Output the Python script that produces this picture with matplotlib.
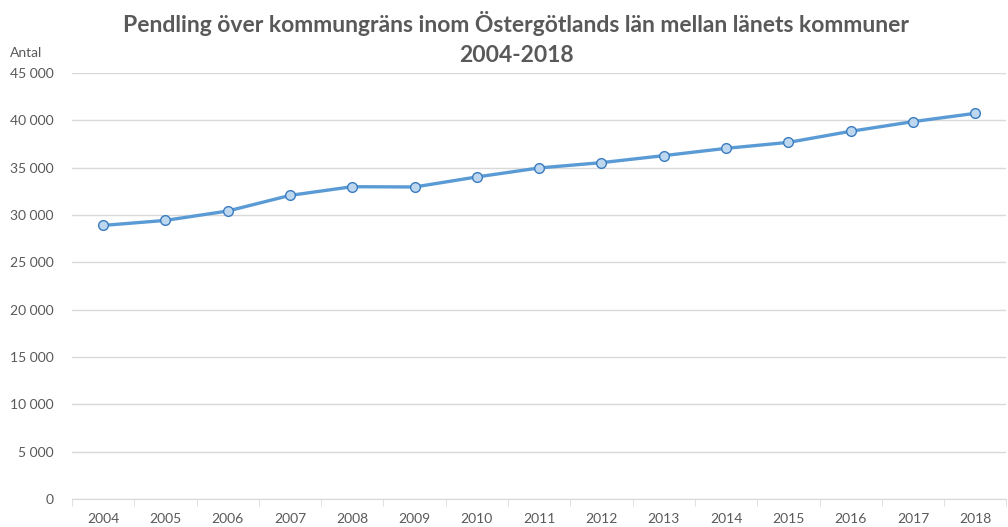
import matplotlib.pyplot as plt
import matplotlib.ticker as mticker

years = [2004, 2005, 2006, 2007, 2008, 2009, 2010, 2011, 2012, 2013, 2014, 2015, 2016, 2017, 2018]
pendlare = [28900, 29430, 30420, 32070, 32990, 32960, 34020, 34970, 35530, 36270,
            37040, 37670, 38840, 39860, 40740]

plt.rcParams['font.family'] = ['Lato', 'DejaVu Sans']

fig = plt.figure(figsize=(10.08, 5.27), dpi=100)
ax = fig.add_axes([0.0714, 0.0531, 0.927, 0.8084])

x = list(range(len(years)))
ax.plot(x, pendlare, color='#5b9bd5', linewidth=2.4, marker='o', markersize=7,
        markerfacecolor='#bdd7ee', markeredgecolor='#3a7cc0', markeredgewidth=1, zorder=3)

ax.set_xlim(-0.5, len(years) - 0.5)
ax.set_ylim(0, 45000)
ax.set_yticks(range(0, 45001, 5000))
ax.yaxis.set_major_formatter(mticker.FuncFormatter(lambda v, p: f"{int(v):,}".replace(',', ' ')))
ax.set_xticks(x)
ax.set_xticklabels([str(y) for y in years])
ax.set_xticks([i - 0.5 for i in range(len(years) + 1)], minor=True)

ax.grid(axis='y', color='#d9d9d9', linewidth=1)
ax.set_axisbelow(True)
for s in ['top', 'right', 'left']:
    ax.spines[s].set_visible(False)
ax.spines['bottom'].set_color('#d9d9d9')
ax.tick_params(axis='y', length=0, pad=13, labelsize=10, labelcolor='#595959')
ax.tick_params(axis='x', which='major', length=0, pad=10, labelsize=10, labelcolor='#595959')
ax.tick_params(axis='x', which='minor', length=5, color='#d9d9d9')

fig.text(0.01, 0.888, 'Antal', fontsize=10, color='#595959', ha='left', va='bottom')
fig.suptitle('Pendling över kommungräns inom Östergötlands län mellan länets kommuner\n2004-2018',
             x=0.512, y=0.98, fontsize=16.5, fontweight='bold', color='#595959', linespacing=1.55)

fig.savefig('out.png', dpi=100)
